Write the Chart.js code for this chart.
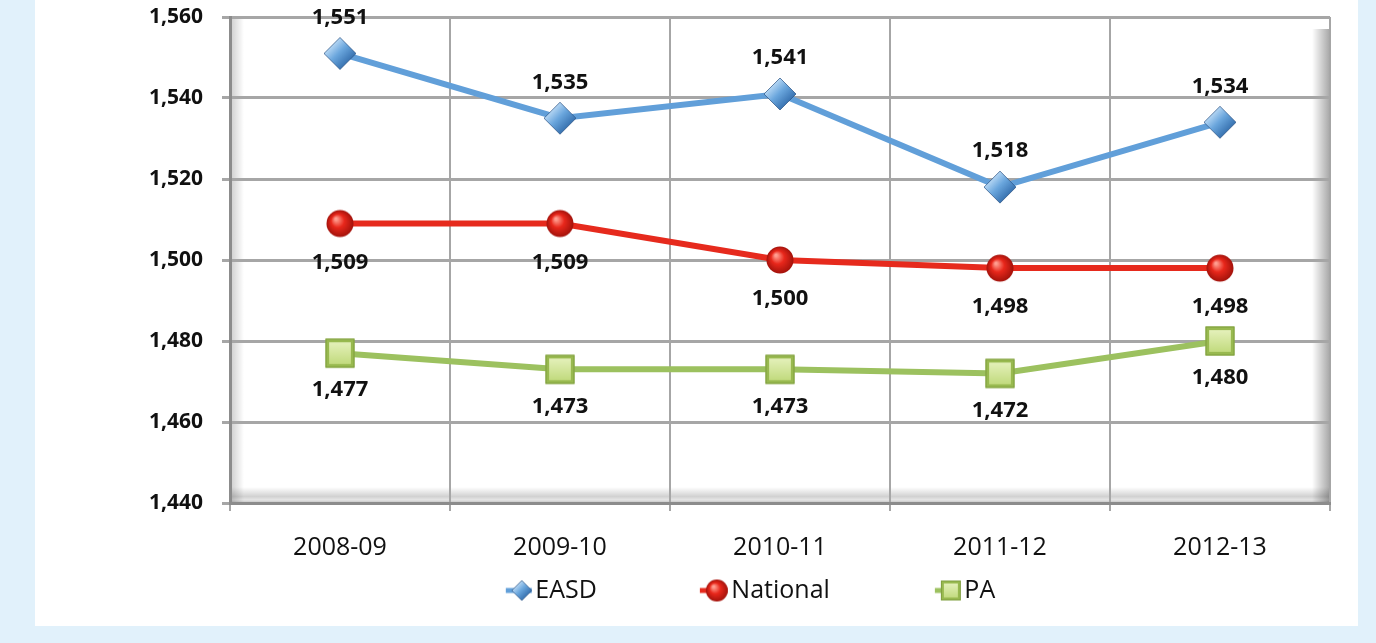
<!DOCTYPE html>
<html>
<head>
<meta charset="utf-8">
<script src="https://cdn.jsdelivr.net/npm/chart.js@4.4.0/dist/chart.umd.min.js"></script>
<style>
    html, body { margin: 0; padding: 0; background: #e1f1fb; }
    #wrap { width: 1376px; height: 643px; }
</style>
</head>
<body>
<div id="wrap"><canvas id="chart" width="1376" height="643"></canvas></div>
<script>
// Chart data
const years = ['2008-09', '2009-10', '2010-11', '2011-12', '2012-13'];
const easd = [1551, 1535, 1541, 1518, 1534];
const national = [1509, 1509, 1500, 1498, 1498];
const pa = [1477, 1473, 1473, 1472, 1480];
const yMin = 1440;
const yMax = 1560;
const yStep = 20;

const blue = '#619fd9';
const red = '#e62a1d';
const green = '#9cc15f';

// Marker images (Excel-like bevelled markers)
function makeCanvas(w, h) {
    const c = document.createElement('canvas');
    c.width = w;
    c.height = h;
    return c;
}

function drawDiamond(ctx, cx, cy, r) {
    ctx.beginPath();
    ctx.moveTo(cx, cy - r);
    ctx.lineTo(cx + r, cy);
    ctx.lineTo(cx, cy + r);
    ctx.lineTo(cx - r, cy);
    ctx.closePath();
    const g = ctx.createLinearGradient(cx - r / 2, cy - r / 2, cx + r / 2, cy + r / 2);
    g.addColorStop(0, '#b3d5f3');
    g.addColorStop(0.45, '#6aa6dd');
    g.addColorStop(1, '#3a74b2');
    ctx.fillStyle = g;
    ctx.fill();
    ctx.strokeStyle = 'rgba(40,80,130,0.7)';
    ctx.lineWidth = 1;
    ctx.stroke();
}

function drawSphere(ctx, cx, cy, r) {
    const g = ctx.createRadialGradient(cx - r * 0.3, cy - r * 0.35, 1, cx, cy, r);
    g.addColorStop(0, '#ff9d8f');
    g.addColorStop(0.45, '#e8271b');
    g.addColorStop(1, '#a3120b');
    ctx.beginPath();
    ctx.arc(cx, cy, r, 0, Math.PI * 2);
    ctx.fillStyle = g;
    ctx.fill();
}

function drawSquare(ctx, cx, cy, r) {
    ctx.fillStyle = '#98b94f';
    ctx.fillRect(cx - r, cy - r, r * 2, r * 2);
    const g = ctx.createLinearGradient(0, cy - r, 0, cy + r);
    g.addColorStop(0, '#eaf4c4');
    g.addColorStop(1, '#bcd774');
    ctx.fillStyle = g;
    const inset = Math.max(3, r * 0.25);
    ctx.fillRect(cx - r + inset, cy - r + inset, (r - inset) * 2, (r - inset) * 2);
    ctx.strokeStyle = '#7f9e3f';
    ctx.lineWidth = 1;
    ctx.strokeRect(cx - r + 0.5, cy - r + 0.5, r * 2 - 1, r * 2 - 1);
}

function pointImage(drawFn, size, r) {
    const c = makeCanvas(size, size);
    drawFn(c.getContext('2d'), size / 2, size / 2, r);
    return c;
}

// legend box is wide (spacing), the image spills into the text gap so the marker sits next to the text
const legendBoxW = 112;
const legendImgW = legendBoxW + 24;
function legendImage(drawFn, color, r) {
    const c = makeCanvas(legendImgW, 26);
    const ctx = c.getContext('2d');
    const mx = legendImgW - 3 - r;
    ctx.strokeStyle = color;
    ctx.lineWidth = 5;
    ctx.beginPath();
    ctx.moveTo(mx - r - 6, 13);
    ctx.lineTo(mx + r, 13);
    ctx.stroke();
    drawFn(ctx, mx, 13, r);
    return c;
}

const diamondPt = pointImage(drawDiamond, 36, 16);
const spherePt = pointImage(drawSphere, 30, 13.5);
const squarePt = pointImage(drawSquare, 32, 14.5);
const legendImgs = [
    legendImage(drawDiamond, blue, 10),
    legendImage(drawSphere, red, 11),
    legendImage(drawSquare, green, 10)
];

// Panel + plot area bevel
const backdrop = {
    id: 'backdrop',
    beforeDraw(chart) {
        const { ctx, chartArea } = chart;
        const { left, top, right, bottom } = chartArea;
        ctx.save();
        ctx.fillStyle = '#ffffff';
        ctx.fillRect(35, 0, 1323, 626);

        let g = ctx.createLinearGradient(left, 0, left + 14, 0);
        g.addColorStop(0, 'rgba(0,0,0,0.20)');
        g.addColorStop(1, 'rgba(0,0,0,0)');
        ctx.fillStyle = g;
        ctx.fillRect(left, top, 14, bottom - top);

        g = ctx.createLinearGradient(right - 18, 0, right, 0);
        g.addColorStop(0, 'rgba(0,0,0,0)');
        g.addColorStop(1, 'rgba(0,0,0,0.35)');
        ctx.fillStyle = g;
        ctx.fillRect(right - 18, top + 12, 18, bottom - top - 12);

        g = ctx.createLinearGradient(0, bottom - 16, 0, bottom);
        g.addColorStop(0, 'rgba(0,0,0,0)');
        g.addColorStop(0.6, 'rgba(0,0,0,0.18)');
        g.addColorStop(0.8, 'rgba(0,0,0,0.10)');
        g.addColorStop(1, 'rgba(0,0,0,0.25)');
        ctx.fillStyle = g;
        ctx.fillRect(left, bottom - 16, right - left, 16);
        ctx.restore();
    }
};

// Value labels next to each point
const valueLabels = {
    id: 'valueLabels',
    afterDatasetsDraw(chart) {
        const ctx = chart.ctx;
        ctx.save();
        ctx.font = 'bold 22px "Open Sans"';
        ctx.fillStyle = '#111';
        ctx.textAlign = 'center';
        ctx.textBaseline = 'middle';
        chart.data.datasets.forEach((ds, i) => {
            chart.getDatasetMeta(i).data.forEach((pt, j) => {
                ctx.fillText(ds.data[j].toLocaleString('en-US'), pt.x, pt.y + ds.labelDy);
            });
        });
        ctx.restore();
    }
};

const ctx = document.getElementById('chart').getContext('2d');
new Chart(ctx, {
    type: 'line',
    data: {
        labels: years,
        datasets: [
            {
                label: 'EASD',
                data: easd,
                borderColor: blue,
                borderWidth: 6,
                pointStyle: diamondPt,
                pointRadius: 16,
                labelDy: -36
            },
            {
                label: 'National',
                data: national,
                borderColor: red,
                borderWidth: 6,
                pointStyle: spherePt,
                pointRadius: 14,
                labelDy: 39
            },
            {
                label: 'PA',
                data: pa,
                borderColor: green,
                borderWidth: 6,
                pointStyle: squarePt,
                pointRadius: 15,
                labelDy: 37
            }
        ]
    },
    options: {
        responsive: false,
        animation: false,
        devicePixelRatio: 1,
        layout: { autoPadding: false, padding: { left: 76, right: 46, top: 17, bottom: 30 } },
        elements: { line: { tension: 0 } },
        scales: {
            x: {
                offset: true,
                grid: { offset: true, color: '#a6a6a6', lineWidth: 2, tickLength: 8, tickColor: '#a6a6a6' },
                border: { color: '#8c8c8c', width: 3 },
                ticks: { font: { family: 'Open Sans', size: 25 }, color: '#111', padding: 22 },
                afterFit(scale) { scale.height = 65; }
            },
            y: {
                min: yMin,
                max: yMax,
                grid: { color: '#a6a6a6', lineWidth: 3, tickLength: 8, tickColor: '#a6a6a6' },
                border: { color: '#8c8c8c', width: 3 },
                ticks: {
                    stepSize: yStep,
                    padding: 19,
                    color: '#111',
                    font: { family: 'Open Sans', size: 21, weight: 'bold' },
                    callback: v => v.toLocaleString('en-US')
                },
                afterFit(scale) {
                    scale.width = 154;
                    // the tick padding should not push the plot area down
                    scale.paddingTop = 0;
                    scale.paddingBottom = 0;
                }
            }
        },
        plugins: {
            tooltip: { enabled: false },
            legend: {
                position: 'bottom',
                labels: {
                    usePointStyle: true,
                    pointStyleWidth: legendBoxW,
                    boxHeight: 25,
                    padding: 10,
                    color: '#111',
                    font: { family: 'Open Sans', size: 25 },
                    generateLabels(chart) {
                        const items = Chart.defaults.plugins.legend.labels.generateLabels(chart);
                        items.forEach((it, i) => { it.pointStyle = legendImgs[i]; });
                        return items;
                    }
                }
            }
        }
    },
    plugins: [backdrop, valueLabels]
});
</script>
</body>
</html>
